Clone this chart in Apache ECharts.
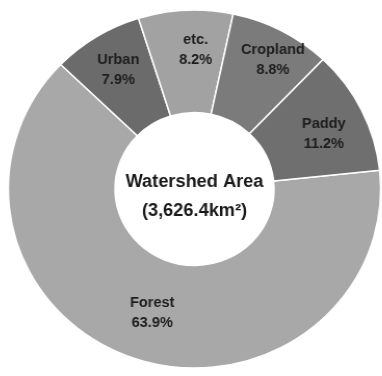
<!DOCTYPE html>
<html>
<head>
<meta charset="utf-8">
<script src="https://cdn.jsdelivr.net/npm/echarts@6/dist/echarts.min.js"></script>
<style>
  html, body { margin: 0; padding: 0; background: #fff; overflow: hidden; }
  /* the ring is drawn slightly wider than tall */
  #chart { width: 382px; height: 376px; transform: scaleX(1.04); transform-origin: 194.5px 189px; }
</style>
</head>
<body>
<div id="chart"></div>
<script>
// Land-use shares of the watershed (percent)
const categories = ['Forest', 'Urban', 'etc.', 'Cropland', 'Paddy'];
const shares = [63.9, 7.9, 8.2, 8.8, 11.2];
const centerTitle = 'Watershed Area';
const centerSub = '(3,626.4km²)';

const sliceColors = ['#a8a8a8', '#6b6b6b', '#a2a2a2', '#7b7b7b', '#6f6f6f'];
// fine nudges of each slice label away from the ring's mid radius (px)
const labelNudge = {
  dx: [2, -4.5, 7.4, 14.3, 7],
  dy: [1, -8, -8.2, -13.7, 2.6]
};

const chart = echarts.init(document.getElementById('chart'), null, { renderer: 'canvas' });
chart.setOption({
  animation: false,
  backgroundColor: '#ffffff',
  series: [{
    type: 'pie',
    center: [194.5, 189],
    radius: [76.5, 179],
    startAngle: 6,
    clockwise: true,
    avoidLabelOverlap: false,
    itemStyle: { borderColor: '#ffffff', borderWidth: 1.5 },
    label: {
      show: true,
      position: 'inside',
      formatter: p => p.name + '\n' + p.value.toFixed(1) + '%',
      fontFamily: 'Liberation Sans, Arial, sans-serif',
      fontSize: 14,
      fontWeight: 'bold',
      color: '#1e1e1e',
      lineHeight: 20
    },
    labelLine: { show: false },
    labelLayout: function (params) {
      const i = params.dataIndex;
      return { dx: labelNudge.dx[i], dy: labelNudge.dy[i] };
    },
    emphasis: { disabled: true },
    data: categories.map((c, i) => ({
      name: c,
      value: shares[i],
      itemStyle: { color: sliceColors[i] }
    }))
  }],
  graphic: [{
    type: 'text',
    x: 194.5,
    y: 197,
    style: {
      text: centerTitle + '\n' + centerSub,
      textAlign: 'center',
      textVerticalAlign: 'middle',
      fontFamily: 'Liberation Sans, Arial, sans-serif',
      fontSize: 17.5,
      fontWeight: 'bold',
      lineHeight: 29,
      fill: '#1a1a1a'
    }
  }]
});
</script>
</body>
</html>
